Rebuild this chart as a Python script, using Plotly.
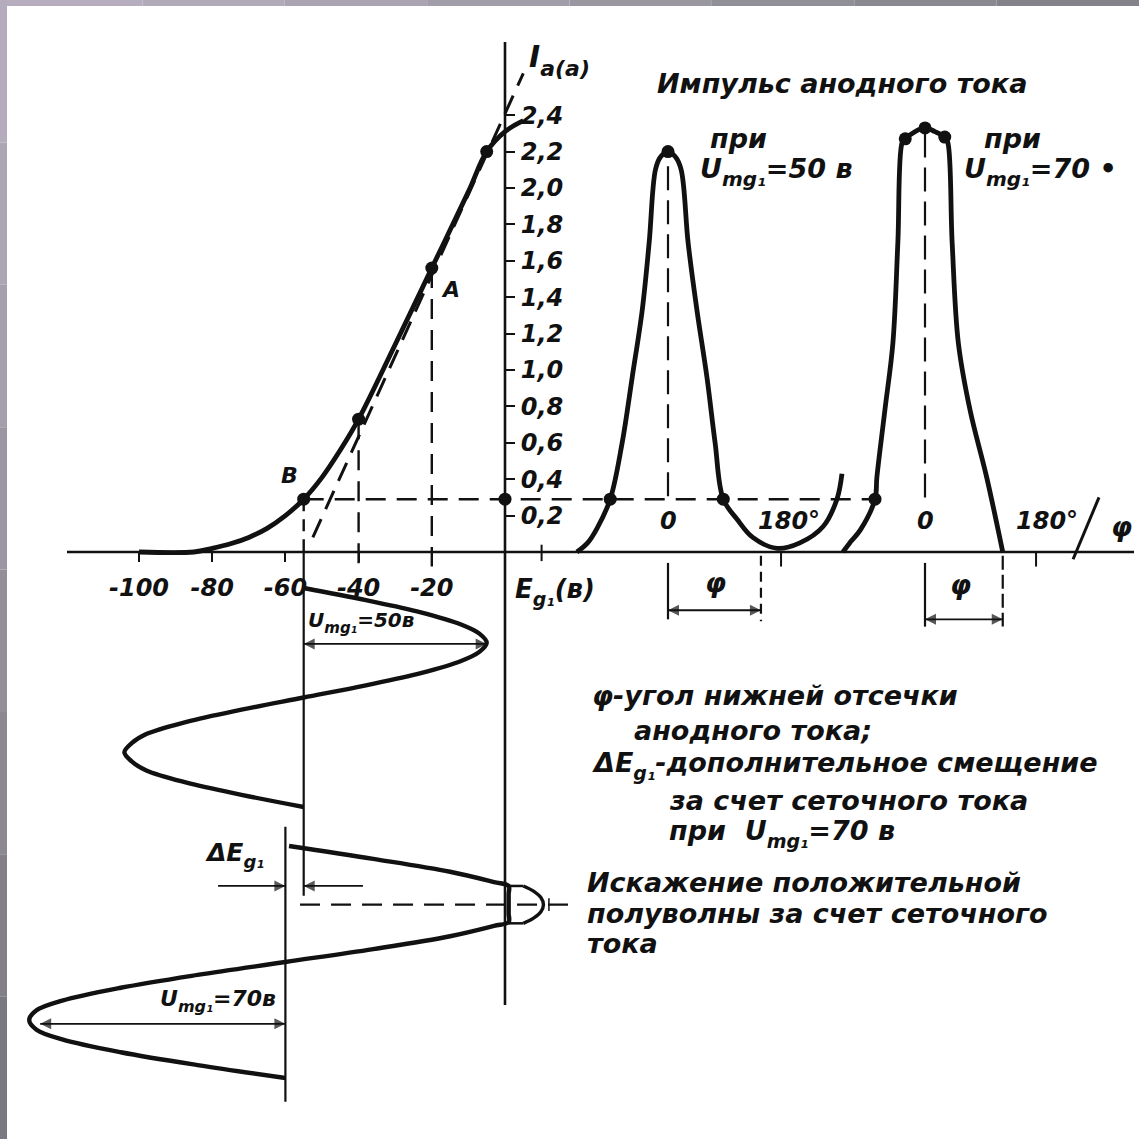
import plotly.graph_objects as go

W = H = 1139

# ---------------- data ----------------
# anode-grid characteristic  I_a = f(E_g1)
E_G1 = [-100, -85, -80, -75, -70, -65, -60, -55, -50, -45, -40, -30, -20, -10, -5, 0, 5]
I_A = [0.0, 0.0, 0.02, 0.045, 0.08, 0.13, 0.2, 0.29, 0.41, 0.56, 0.73, 1.14, 1.56, 1.98, 2.2, 2.31, 2.37]

# straight-line approximation of the characteristic (dashed)
E_LIN = [-52.5, 5.0]
I_LIN = [0.08, 2.63]

# marked points on the characteristic
E_PTS = [-55, -40, -20, -5]
I_PTS = [0.29, 0.73, 1.56, 2.2]
PT_NAMES = ["B", "A"]
E_NAMES = [-59, -15]
I_NAMES = [0.42, 1.44]
I_CUT = 0.29          # current level of point B

# axis ticks
E_TICKS = [-100, -80, -60, -40, -20]
E_TICK_TEXT = ["-100", "-80", "-60", "-40", "-20"]
E_MINOR_TICK = 10
I_TICKS = [0.2, 0.4, 0.6, 0.8, 1.0, 1.2, 1.4, 1.6, 1.8, 2.0, 2.2, 2.4]
I_TICK_TEXT = ["0,2", "0,4", "0,6", "0,8", "1,0", "1,2", "1,4", "1,6", "1,8", "2,0", "2,2", "2,4"]

# grid voltage, U_mg1 = 50 V around bias -55 V (ωt in degrees, downward)
WT_50 = [0, 20, 40, 60, 75, 90, 105, 120, 140, 160, 180, 200, 220, 240, 255, 270, 285, 300, 320, 340, 360]
EG_50 = [-55, -38, -23, -12, -7, -5, -7, -12, -23, -38, -55, -72, -87, -98, -102, -104, -102, -98, -87, -72, -55]
E_BIAS_50 = -55
WT_AXIS_50 = [-60, 506]

# grid voltage, U_mg1 = 70 V around bias -60 V, positive half-wave clipped by grid current
WT_70 = [0, 20, 40, 56, 62, 75, 90, 105, 118, 124, 140, 160, 180, 200, 220, 240, 255, 270, 285, 300, 320, 340, 360]
EG_70 = [-59, -36, -15, -3, 1, 1, 1, 1, 1, -3, -15, -36, -60, -84, -105, -121, -128, -130, -128, -121, -105, -84, -60]
E_BIAS_70 = -60
WT_AXIS_70 = [-30, 397]
# undistorted top of the 70 V half-wave
WT_TOP_70 = [62, 70, 80, 91, 102, 112, 120]
EG_TOP_70 = [5, 7.8, 9.8, 10.5, 9.8, 7.8, 5]
WT_PEAK_70 = 91
E_PEAK_LINE = [-56, 18.3]
WT_DELTA = 62
DELTA_E_TAILS = [-78.4, -38.8]

# anode current pulse at U_mg1 = 50 V (phase in degrees)
PH_50 = [-145, -128, -113, -92, -73, -57, -41, -30, -20, -12, 0, 12, 21, 32, 46, 62, 75, 88,
         110, 135, 174, 210, 247, 269, 277]
IA_50 = [0.0, 0.05, 0.13, 0.29, 0.6, 0.96, 1.33, 1.7, 2.1, 2.17, 2.2, 2.17, 2.1, 1.7, 1.33, 0.96, 0.6, 0.29,
         0.18, 0.08, 0.02, 0.05, 0.14, 0.29, 0.43]
PH_DOTS_50 = [-92, 0, 88]
IA_DOTS_50 = [0.29, 2.2, 0.29]
PHI_50 = 148

# anode current pulse at U_mg1 = 70 V
PH_70 = [-133, -122, -105, -81, -78, -65, -52, -44, -37, -32, -16, 0, 16, 32, 37, 44, 54, 73, 100, 126]
IA_70 = [0.0, 0.05, 0.12, 0.29, 0.41, 0.78, 1.15, 1.7, 2.25, 2.27, 2.31, 2.33, 2.31, 2.28, 2.25, 1.7, 1.15,
         0.78, 0.41, 0.0]
PH_DOTS_70 = [-81, -32, 0, 32]
IA_DOTS_70 = [0.29, 2.27, 2.33, 2.28]
PHI_70 = 126

# ---------------- drawing frame (layout) ----------------
X0_E, PX_PER_V = 505.0, 3.66
Y0_I, PX_PER_A = 552.0, 182.0
X0_P1, PX_PER_D1 = 668.0, 0.628
X0_P2, PX_PER_D2 = 925.0, 0.617
Y0_T1, PX_PER_T1 = 588.0, 219.0 / 360
Y0_T2, PX_PER_T2 = 846.0, 232.0 / 360


def x_range(x0, s):
    return [-x0 / s, (W - x0) / s]


def y_range(y0, s):
    return [(y0 - H) / s, y0 / s]


def t_range(y0, s):
    return [(H - y0) / s, -y0 / s]


def E_of_px(x):
    return (x - X0_E) / PX_PER_V


def I_of_px(y):
    return (Y0_I - y) / PX_PER_A


def E_of_ph2(ph):
    return E_of_px(X0_P2 + PX_PER_D2 * ph)


def px(x):
    return x / W


def py(y):
    return 1 - y / H


def sub(s, size):
    """subscript as a sized span (no extra reset spans)"""
    return '<span style="font-size:%dpx;baseline-shift:-%dpx">%s</span>' % (size, round(size * 0.4), s)


INK = "#111111"
FONT = "DejaVu Sans"

fig = go.Figure()


def line(x, y, xa="x", ya="y", width=2.2, dash="solid", shape="linear"):
    fig.add_trace(go.Scatter(x=x, y=y, xaxis=xa, yaxis=ya, mode="lines",
                             line=dict(color=INK, width=width, dash=dash, shape=shape),
                             hoverinfo="skip", showlegend=False))


def dots(x, y, xa="x", ya="y", size=13):
    fig.add_trace(go.Scatter(x=x, y=y, xaxis=xa, yaxis=ya, mode="markers",
                             marker=dict(color=INK, size=size), cliponaxis=False,
                             hoverinfo="skip", showlegend=False))


def harrow(x_from, x_to, y, xa="x", ya="y", both=True):
    """horizontal arrow from x_from to x_to (head at x_to, and at x_from if both)"""
    right = "arrow-right" if x_to > x_from else "arrow-left"
    left = "arrow-left" if x_to > x_from else "arrow-right"
    syms = [left if both else "line-ns", right]
    sizes = [11 if both else 0, 11]
    fig.add_trace(go.Scatter(x=[x_from, x_to], y=[y, y], xaxis=xa, yaxis=ya, mode="lines+markers",
                             line=dict(color=INK, width=1.8),
                             marker=dict(symbol=syms, size=sizes, color=INK, line=dict(width=0)),
                             cliponaxis=False, hoverinfo="skip", showlegend=False))


DASH = "20px,11px"

# axes lines
line([E_of_px(67), E_of_px(1134)], [0, 0], width=2.6)
line([0, 0], [I_of_px(42), I_of_px(1005)], width=2.6)
line([E_MINOR_TICK, E_MINOR_TICK], [0.04, -0.05], width=2)

# characteristic
line(E_G1, I_A, width=4.8, shape="spline")
line(E_LIN, I_LIN, width=3, dash=DASH)
dots(E_PTS, I_PTS)
dots([0], [I_CUT])

# guides
line([E_PTS[0], E_of_ph2(PH_DOTS_70[0])], [I_CUT, I_CUT], width=2.4, dash=DASH)
line([E_PTS[0], E_PTS[0]], [I_CUT, 0], width=2.4, dash="12px,8px")
line([E_PTS[1], E_PTS[1]], [I_PTS[1], -0.08], width=2.4, dash=DASH)
line([E_PTS[2], E_PTS[2]], [I_PTS[2], -0.08], width=2.4, dash=DASH)

# grid voltage waves
line([E_BIAS_50, E_BIAS_50], WT_AXIS_50, ya="y2", width=2.2)
line(EG_50, WT_50, ya="y2", width=4.4, shape="spline")
line([E_BIAS_70, E_BIAS_70], WT_AXIS_70, ya="y3", width=2.2)
line(EG_70, WT_70, ya="y3", width=4.4, shape="spline")
line(EG_TOP_70, WT_TOP_70, ya="y3", width=3.4, shape="spline")
line([1, 5], [WT_TOP_70[0], WT_TOP_70[0]], ya="y3", width=2.5)
line([1, 5], [WT_TOP_70[-1], WT_TOP_70[-1]], ya="y3", width=2.5)
line(E_PEAK_LINE, [WT_PEAK_70, WT_PEAK_70], ya="y3", width=2.4, dash=DASH)
line([12, 12], [WT_PEAK_70 - 10, WT_PEAK_70 + 10], ya="y3", width=1.5)

# anode current pulses
line(PH_50, IA_50, xa="x2", width=4.8, shape="spline")
dots(PH_DOTS_50, IA_DOTS_50, xa="x2")
line([0, 0], [2.12, I_CUT], xa="x2", width=2.2, dash="24px,10px")
line(PH_70, IA_70, xa="x3", width=4.8, shape="spline")
dots(PH_DOTS_70, IA_DOTS_70, xa="x3")
line([0, 0], [2.3, I_CUT], xa="x3", width=2.2, dash="24px,10px")

# phase ticks at 180° and φ brackets
line([180, 180], [0, -0.08], xa="x2", width=2)
line([180, 180], [0, -0.08], xa="x3", width=2)
line([0, 0], [-0.06, -0.37], xa="x2", width=2.2)
line([PHI_50, PHI_50], [-0.02, -0.38], xa="x2", width=2.2, dash="10px,6px")
line([0, 0], [-0.06, -0.41], xa="x3", width=2.2)
line([PHI_70, PHI_70], [-0.02, -0.41], xa="x3", width=2.2, dash="14px,5px")
harrow(0, PHI_50, -0.32, xa="x2")
harrow(0, PHI_70, -0.37, xa="x3")
# axis end stroke
line([240, 282], [-0.04, 0.30], xa="x3", width=3)

# arrows of the grid waves
harrow(E_BIAS_50, EG_50[5], 92, ya="y2")
harrow(E_BIAS_70, -127, 276, ya="y3")
harrow(DELTA_E_TAILS[0], E_BIAS_70, WT_DELTA, ya="y3", both=False)
harrow(DELTA_E_TAILS[1], E_BIAS_50, WT_DELTA, ya="y3", both=False)

annotations = []


def txt(text, x, y, xref="paper", yref="paper", size=24, xanchor="center", yanchor="middle",
        weight="bold"):
    annotations.append(dict(text=text, x=x, y=y, xref=xref, yref=yref, showarrow=False,
                            xanchor=xanchor, yanchor=yanchor,
                            font=dict(family=FONT, size=size, color=INK, style="italic", weight=weight)))


# labels of characteristic
for name, e, i in zip(PT_NAMES, E_NAMES, I_NAMES):
    txt(name, e, i, "x", "y", size=22)
txt("I" + sub("a(a)", 22), px(527), py(60), size=30, xanchor="left")
txt("E" + sub("g₁", 19) + "(в)", px(513), py(592), size=26, xanchor="left")

# pulse labels
txt("0", 0, 0.17, "x2", "y", size=24)
txt("180°", 192, 0.17, "x2", "y", size=24)
txt("0", 0, 0.17, "x3", "y", size=24)
txt("180°", 197, 0.17, "x3", "y", size=24)
txt("φ", 75, -0.17, "x2", "y", size=27)
txt("φ", 58, -0.18, "x3", "y", size=27)
txt("φ", 318, 0.14, "x3", "y", size=27)

txt("Импульс анодного тока", px(655), py(83), size=27, xanchor="left")
txt("при", px(708), py(138), size=27, xanchor="left")
txt("U" + sub("mg₁", 20) + "=50 в", px(698), py(172), size=27, xanchor="left")
txt("при", px(982), py(138), size=27, xanchor="left")
txt("U" + sub("mg₁", 20) + "=70 •", px(962), py(172), size=27, xanchor="left")

# grid-wave labels
txt("U" + sub("mg₁", 15) + "=50в", E_BIAS_50 + 0.5, 56, "x", "y2", size=20, xanchor="left")
txt("U" + sub("mg₁", 16) + "=70в", E_BIAS_70 - 2, 240, "x", "y3", size=22, xanchor="right")
txt("ΔE" + sub("g₁", 18), -74, 14, "x", "y3", size=25)

# explanation text
txt("φ-угол нижней отсечки", px(590), py(695), size=27, xanchor="left")
txt("анодного тока;", px(632), py(730), size=27, xanchor="left")
txt("ΔE" + sub("g₁", 19) + "-дополнительное смещение", px(590), py(765), size=27, xanchor="left")
txt("за счет сеточного тока", px(667), py(800), size=27, xanchor="left")
txt("при  U" + sub("mg₁", 19) + "=70 в", px(667), py(833), size=27, xanchor="left")
txt("Искажение положительной", px(585), py(882), size=27, xanchor="left")
txt("полуволны за счет сеточного", px(585), py(913), size=27, xanchor="left")
txt("тока", px(585), py(943), size=27, xanchor="left")

# frame decoration (grey bevel on the top and left edges)
shapes = []
top_cols = ["#b6aebe", "#b1aab9", "#aaa4b2", "#a29ea9", "#9a97a1", "#918f98", "#8a8891", "#84828b"]
n = len(top_cols)
for k, c in enumerate(top_cols):
    shapes.append(dict(type="rect", xref="paper", yref="paper", x0=k / n, x1=(k + 1) / n,
                       y0=py(6), y1=1, fillcolor=c, line=dict(width=0), layer="below"))
left_cols = ["#b4acbc", "#aca5b4", "#a49fab", "#9b97a2", "#938f99", "#8b8890", "#827f88", "#7a7880"]
n = len(left_cols)
for k, c in enumerate(left_cols):
    shapes.append(dict(type="rect", xref="paper", yref="paper", x0=0, x1=px(7),
                       y0=1 - (k + 1) / n, y1=1 - k / n, fillcolor=c, line=dict(width=0), layer="below"))

tickfont = dict(family=FONT, size=24, color=INK, style="italic", weight="bold")
fig.update_layout(
    width=W, height=H, margin=dict(l=0, r=0, t=0, b=0, pad=0),
    paper_bgcolor="white", plot_bgcolor="rgba(0,0,0,0)", showlegend=False,
    xaxis=dict(domain=[0, 1], range=x_range(X0_E, PX_PER_V), anchor="free", position=1 - Y0_I / H,
               showline=False, showgrid=False, zeroline=False, ticks="outside", ticklen=9, tickwidth=2,
               tickcolor=INK, tickvals=E_TICKS, ticktext=E_TICK_TEXT, tickfont=tickfont,
               ticklabelstandoff=5, fixedrange=True),
    yaxis=dict(domain=[0, 1], range=y_range(Y0_I, PX_PER_A), anchor="free", position=X0_E / W,
               side="right", showline=False, showgrid=False, zeroline=False, ticks="outside", ticklen=9,
               tickwidth=2, tickcolor=INK, tickvals=I_TICKS, ticktext=I_TICK_TEXT, tickfont=tickfont,
               ticklabelstandoff=1, fixedrange=True),
    xaxis2=dict(range=x_range(X0_P1, PX_PER_D1), overlaying="x", visible=False, fixedrange=True),
    xaxis3=dict(range=x_range(X0_P2, PX_PER_D2), overlaying="x", visible=False, fixedrange=True),
    yaxis2=dict(range=t_range(Y0_T1, PX_PER_T1), overlaying="y", visible=False, fixedrange=True),
    yaxis3=dict(range=t_range(Y0_T2, PX_PER_T2), overlaying="y", visible=False, fixedrange=True),
    annotations=annotations, shapes=shapes,
)

fig.write_html("out.html", config={"displayModeBar": False},
               post_script="document.body.style.margin='0';document.body.style.overflow='hidden';")
